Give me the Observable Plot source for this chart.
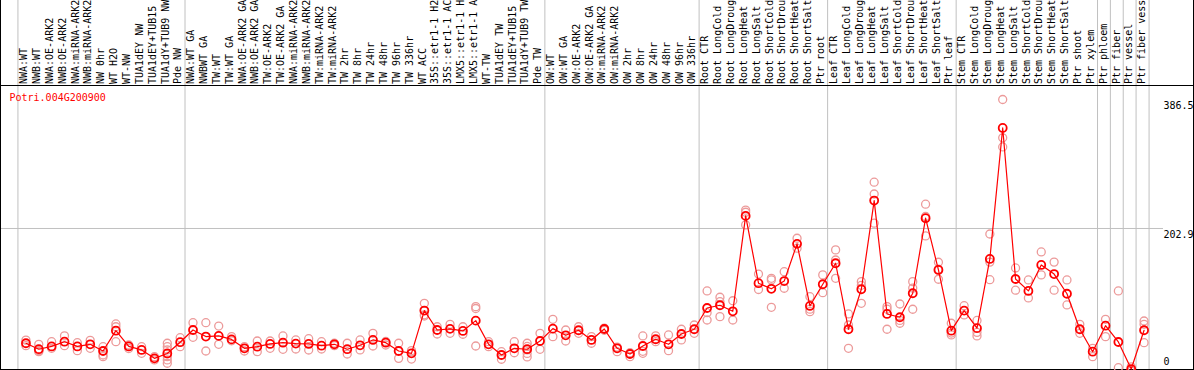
<!DOCTYPE html>
<html>
<head>
<meta charset="utf-8">
<script src="https://cdn.jsdelivr.net/npm/d3@7"></script>
<script src="https://cdn.jsdelivr.net/npm/@observablehq/plot@0.6"></script>
<style>
  html, body { margin: 0; padding: 0; background: #fff; }
  svg { display: block; }
</style>
</head>
<body>
<div id="chart"></div>
<script>
const title = "Potri.004G200900";

const categories = [
  "NWA:WT","NWB:WT","NWA:OE-ARK2","NWB:OE-ARK2","NWA:miRNA-ARK2","NWB:miRNA-ARK2","NW 0hr","WT H2O","WT-NW",
  "TUA1dEY NW","TUA1dEY+TUB15 NW","TUA1dY+TUB9 NW","Pde NW",
  "NWA:WT GA","NWBWT GA","TW:WT","TW:WT GA","NWA:OE-ARK2 GA","NWB:OE-ARK2 GA","TW:OE-ARK2","TW:OE-ARK2 GA",
  "NWA:miRNA-ARK2 GA","NWB:miRNA-ARK2 GA","TW:miRNA-ARK2","TW:miRNA-ARK2 GA","TW 2hr","TW 8hr","TW 24hr","TW 48hr",
  "TW 96hr","TW 336hr","WT ACC","35S::etr1-1 H2O","35S::etr1-1 ACC","LMX5::etr1-1 H2O","LMX5::etr1-1 ACC","WT-TW",
  "TUA1dEY TW","TUA1dEY+TUB15 TW","TUA1dY+TUB9 TW","Pde TW",
  "OW:WT","OW:WT GA","OW:OE-ARK2","OW:OE-ARK2 GA","OW:miRNA-ARK2","OW:miRNA-ARK2 GA","OW 2hr","OW 8hr","OW 24hr",
  "OW 48hr","OW 96hr","OW 336hr",
  "Root CTR","Root LongCold","Root LongDrought","Root LongHeat","Root LongSalt","Root ShortCold","Root ShortDrought",
  "Root ShortHeat","Root ShortSalt","Ptr root",
  "Leaf CTR","Leaf LongCold","Leaf LongDrought","Leaf LongHeat","Leaf LongSalt","Leaf ShortCold","Leaf ShortDrought",
  "Leaf ShortHeat","Leaf ShortSalt","Ptr leaf",
  "Stem CTR","Stem LongCold","Stem LongDrought","Stem LongHeat","Stem LongSalt","Stem ShortCold","Stem ShortDrought",
  "Stem ShortHeat","Stem ShortSalt","Ptr shoot","Ptr xylem",
  "Ptr phloem","Ptr fiber","Ptr vessel","Ptr fiber vessel"
];

// first category of each vertical-gridline block
const groupStarts = ["NWA:WT","NWA:WT GA","OW:WT","Root CTR","Leaf CTR","Stem CTR","Ptr phloem","Ptr fiber","Ptr vessel","Ptr fiber vessel"];
const lastCategory = ["Ptr fiber vessel"];

const means = [
  39.5,31,35,41.7,35,38,28.5,57.4,35,30,18,25,41,
  58.4,49,50,45,32.3,34.6,38.5,40.3,39,38.5,36,38,31,36.6,44.2,40.3,28.5,25.2,86,58.4,60,57,71.7,38,22.8,32.3,31,42.7,
  60.3,50.8,58,44.2,59.8,32.3,24.2,35.6,45.2,38,52.7,59.4,
  89.7,93.6,85,220.8,125,117,128,181,92.6,123.5,
  153.4,59.4,116.4,242.6,81.2,76.5,110.7,217.5,143.9,57.4,
  85.9,61,159.5,346,131,114,151,138,110,59.4,27.5,
  64.5,41.3,2.8,58
];

const replicates = [
  [44,36],[38,27.5,29],[41.7,32.3],[50,36],[40.3,29],[43.7,32.3],[34.6,22.8,20.4],[67,63,41.7],[37,32],[25.2,34.6],
  [20.4,15.7],[39.5,34.6,30,20.4,15.7,11],[47.4,34.6],
  [68.8,48],[68.8,28.5],[64,38],[48.9,43],[28.5,34.6],[42.7,27.5],[42.7,32.3],[49.9,30.9],[44.2,31.3],[46,29.9],
  [41.7,31.3],[39.5,36],[39.5,24.2],[44.2,30],[53.7,35.6],[42,37],[39.5,18],[29,17],[96.4,78.3,80],[63,52.7],
  [66.5,53.7],[63,52.3],[91.6,89,35.6],[41.7,34.6],[27.5,16.7],[41.7,26],[39.5,35,30,25,20],[53.7,30.9],
  [73.6,48.9],[58.4,42.7],[63,53.7],[48.9,39.5],[61,58],[34,27.5],[26,20.4],[49.9,25.2,28],[50,41.7],[51.3,29],
  [59.4,44.2],[65.5,53.7],
  [114,83,72.6],[105,98.7,77.4],[100,72.6],[229,226,208],[138,116],[132,129.6,90.7],[141.4,117.8],[189,174.8],
  [105.8,84.5,88],[136.8,111.5],
  [172.4,158,132],[81.2,65.5,32.3],[127.2,122,96.4],[268.8,252,210.4],[91.6,88,59.4],[95.4,68,72],[127.2,118,87.9],
  [237.5,220,192.3],[154.8,145,130.6],[68,51.3,54],
  [93,79.8],[72,55,50],[195,155,130],[386.5,332,319],[146.7,115],[129.6,104],[169.5,136.8],[155,115],[129.6,94],
  [66.5,53.7],[32.3,20.4],
  [73.6,48.9],[114,4.7],[6,0],[71.2,66.5,40.3]
];

const yTicksUpper = [386.5, 202.9];
const yTickLower = [0];
const gridValues = [202.9];

const meanTable = categories.map((c, i) => ({cat: c, v: means[i]}));
const repTable = categories.flatMap((c, i) => replicates[i].map(v => ({cat: c, v})));

const mono = "DejaVu Sans Mono";

const chart = Plot.plot({
  width: 1194,
  height: 370,
  margin: 0,
  style: {fontFamily: mono, fontSize: "10px", background: "#fff", overflow: "hidden"},
  x: {type: "point", domain: categories, range: [19, 1150], axis: null},
  y: {type: "linear", domain: [0, 386.5], range: [370.5, 99], axis: null},
  marks: [
    // vertical group gridlines
    Plot.ruleX(groupStarts, {x: d => d, dx: -8, stroke: "#c0c0c0", strokeWidth: 1}),
    Plot.ruleX(lastCategory, {x: d => d, dx: 5, stroke: "#c0c0c0", strokeWidth: 1}),
    // horizontal gridline
    Plot.ruleY(gridValues, {y: d => d, stroke: "#c0c0c0", insetRight: 31}),
    // header separator and borders
    Plot.frame({anchor: "bottom", insetBottom: 285, stroke: "#000"}),
    Plot.frame({anchor: "bottom", insetBottom: 1, stroke: "#000"}),
    Plot.frame({anchor: "left", stroke: "#000"}),
    Plot.frame({anchor: "right", insetRight: 1, stroke: "#000"}),
    // header labels
    Plot.text(categories, {
      x: d => d, frameAnchor: "top", dy: 83.5, dx: -2, rotate: -90,
      textAnchor: "start", lineAnchor: "middle", fontSize: 10, fill: "#000", text: d => d
    }),
    // title
    Plot.text([title], {frameAnchor: "top-left", dx: 9, dy: 97, textAnchor: "start", lineAnchor: "middle", fill: "#ff0000", fontSize: 10, text: d => d}),
    // right axis labels
    Plot.text(yTicksUpper, {y: d => d, frameAnchor: "right", dx: -31, dy: 6, textAnchor: "start", lineAnchor: "middle", fill: "#000", fontSize: 10, text: d => String(d)}),
    Plot.text(yTickLower, {y: d => d, frameAnchor: "right", dx: -31, dy: -9, textAnchor: "start", lineAnchor: "middle", fill: "#000", fontSize: 10, text: d => String(d)}),
    // replicates
    Plot.dot(repTable, {x: "cat", y: "v", r: 4, stroke: "#ec9a9a", strokeWidth: 1.3, fill: "none"}),
    // mean line
    Plot.line(meanTable, {x: "cat", y: "v", stroke: "#ff0000", strokeWidth: 1.2}),
    // means
    Plot.dot(meanTable, {x: "cat", y: "v", r: 4, stroke: "#ff0000", strokeWidth: 1.8, fill: "none"})
  ]
});
document.getElementById("chart").appendChild(chart);
</script>
</body>
</html>
